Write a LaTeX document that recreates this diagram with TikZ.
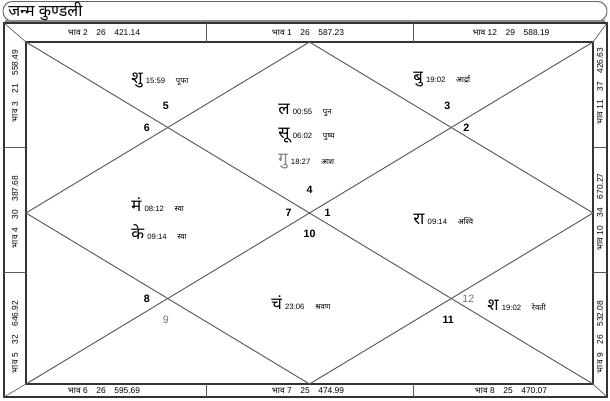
\documentclass[tikz,border=0pt]{standalone}
\usepackage{fontspec}
\setmainfont{Liberation Sans}
\newfontfamily\deva[Script=Devanagari]{Noto Sans}
\usetikzlibrary{calc}

% planet row: glyph, time, nakshatra
\newcommand{\grahrow}[4][black]{{\fontsize{12.5}{13}\deva\color{#1}#2}\hspace{2.5pt}{\fontsize{5.8}{6}\selectfont #3}\hspace{8pt}{\fontsize{5.8}{6}\deva #4}}
% house strip label
\newcommand{\bhavtext}[3]{{\deva भाव}~#1\hspace{6.5pt}#2\hspace{6.5pt}#3}

\begin{document}
\begin{tikzpicture}[x=0.75pt, y=-0.75pt,
    framebox/.style={draw=black!80, line width=1pt},
    chartline/.style={draw=black!65, line width=0.7pt},
    bhav/.style={font=\fontsize{6.3}{7}\selectfont, inner sep=0pt},
    rashi/.style={font=\fontsize{8}{9}\selectfont\bfseries, inner sep=0pt},
    graha/.style={anchor=west, inner sep=0pt}]
  \useasboundingbox (0,0) rectangle (610,400);
  \fill[white] (0,0) rectangle (610,400);

  % title bar
  \draw[draw=black!60, line width=0.7pt, rounded corners=7pt] (3,1.5) rectangle (607,21);
  \draw[draw=black!45, line width=1.8pt] (5,21.5) -- (605,21.5);
  \node[anchor=west, inner sep=0pt, font=\fontsize{12}{12}\deva\bfseries] (title) at (8,11) {जन्म कुण्डली};

  % outer frame and inner chart box
  \coordinate (P1) at (4,23);
  \coordinate (P2) at (607,23);
  \coordinate (P3) at (607,397);
  \coordinate (P4) at (4,397);
  \coordinate (A) at (26,42);
  \coordinate (B) at (593,42);
  \coordinate (C) at (593,384);
  \coordinate (D) at (26,384);
  \coordinate (T) at ($(A)!0.5!(B)$);
  \coordinate (R) at ($(B)!0.5!(C)$);
  \coordinate (S) at ($(C)!0.5!(D)$);
  \coordinate (L) at ($(D)!0.5!(A)$);
  \coordinate (M) at ($(A)!0.5!(C)$);
  \coordinate (X1) at ($(A)!0.5!(M)$);
  \coordinate (X2) at ($(B)!0.5!(M)$);
  \coordinate (X3) at ($(C)!0.5!(M)$);
  \coordinate (X4) at ($(D)!0.5!(M)$);

  \draw[framebox] (P1) rectangle (P3);
  \draw[framebox] (A) rectangle (C);
  \draw[chartline, line width=0.5pt] (P1) -- (A) (P2) -- (B) (P3) -- (C) (P4) -- (D);

  % strip dividers
  \foreach \x in {206,413} {
    \draw[chartline, line width=0.5pt] (\x,23) -- (\x,42);
    \draw[chartline, line width=0.5pt] (\x,384) -- (\x,397);
  }
  \foreach \y in {147,272} {
    \draw[chartline, line width=0.5pt] (4,\y) -- (26,\y);
    \draw[chartline, line width=0.5pt] (593,\y) -- (607,\y);
  }

  % diagonals and diamond
  \draw[chartline] (A) -- (C);
  \draw[chartline] (B) -- (D);
  \draw[chartline] (T) -- (R) -- (S) -- (L) -- cycle;

  % strip labels
  \node[bhav] (b2)  at (104,32.5) {\bhavtext{2}{26}{421.14}};
  \node[bhav] (b1)  at (308,32.5) {\bhavtext{1}{26}{587.23}};
  \node[bhav] (b12) at (511,32.5) {\bhavtext{12}{29}{588.19}};
  \node[bhav] (b6)  at (104,391) {\bhavtext{6}{26}{595.69}};
  \node[bhav] (b7)  at (308,391) {\bhavtext{7}{25}{474.99}};
  \node[bhav] (b8)  at (511,391) {\bhavtext{8}{25}{470.07}};
  \node[bhav, rotate=90] (b3)  at (15,86)  {\bhavtext{3}{21}{558.49}};
  \node[bhav, rotate=90] (b4)  at (15,212) {\bhavtext{4}{30}{387.68}};
  \node[bhav, rotate=90] (b5)  at (15,337) {\bhavtext{5}{32}{646.92}};
  \node[bhav, rotate=90] (b11) at (600,86)  {\bhavtext{11}{37}{426.63}};
  \node[bhav, rotate=90] (b10) at (600,212) {\bhavtext{10}{34}{670.27}};
  \node[bhav, rotate=90] (b9)  at (600,337) {\bhavtext{9}{26}{532.08}};

  % sign numbers
  \node[rashi] (r4)  at ($(M)+(0,-23)$)  {4};
  \node[rashi] (r7)  at ($(M)+(-21,0)$)  {7};
  \node[rashi] (r1)  at ($(M)+(18,0)$)   {1};
  \node[rashi] (r10) at ($(M)+(0,21)$)   {10};
  \node[rashi] (r5)  at ($(X1)+(-2,-22)$) {5};
  \node[rashi] (r6)  at ($(X1)+(-21,0)$)  {6};
  \node[rashi] (r3)  at ($(X2)+(-4,-22)$) {3};
  \node[rashi] (r2)  at ($(X2)+(15,0)$)   {2};
  \node[rashi] (r8)  at ($(X4)+(-21,0)$)  {8};
  \node[rashi, font=\fontsize{8}{9}\selectfont, text=black!55] (r9)  at ($(X4)+(-2,21)$)  {9};
  \node[rashi, font=\fontsize{8}{9}\selectfont, text=black!55] (r12) at ($(X3)+(17,0)$)   {12};
  \node[rashi] (r11) at ($(X3)+(-3,21)$)  {11};

  % planets
  \node[graha] (shu) at (131,80)  {\grahrow{शु}{15:59}{पूफा}};
  \node[graha] (bu)  at (413,80)  {\grahrow{बु}{19:02}{आर्द्रा}};
  \node[graha] (la)  at (278,110) {\grahrow{ल}{00:55}{पुन}};
  \node[graha] (su)  at (278,136) {\grahrow{सू}{06:02}{पुष्य}};
  \node[graha] (gu)  at (278,162) {\grahrow[black!50]{गु}{18:27}{आश}};
  \node[graha] (ma)  at (131,205) {\grahrow{मं}{08:12}{स्वा}};
  \node[graha] (ke)  at (131,232) {\grahrow{के}{09:14}{स्वा}};
  \node[graha] (ra)  at (413,219) {\grahrow{रा}{09:14}{अश्वि}};
  \node[graha] (cha) at (271,303) {\grahrow{चं}{23:06}{श्रवण}};
  \node[graha] (sha) at (487,305) {\grahrow{श}{19:02}{रेवती}};
\end{tikzpicture}
\end{document}
